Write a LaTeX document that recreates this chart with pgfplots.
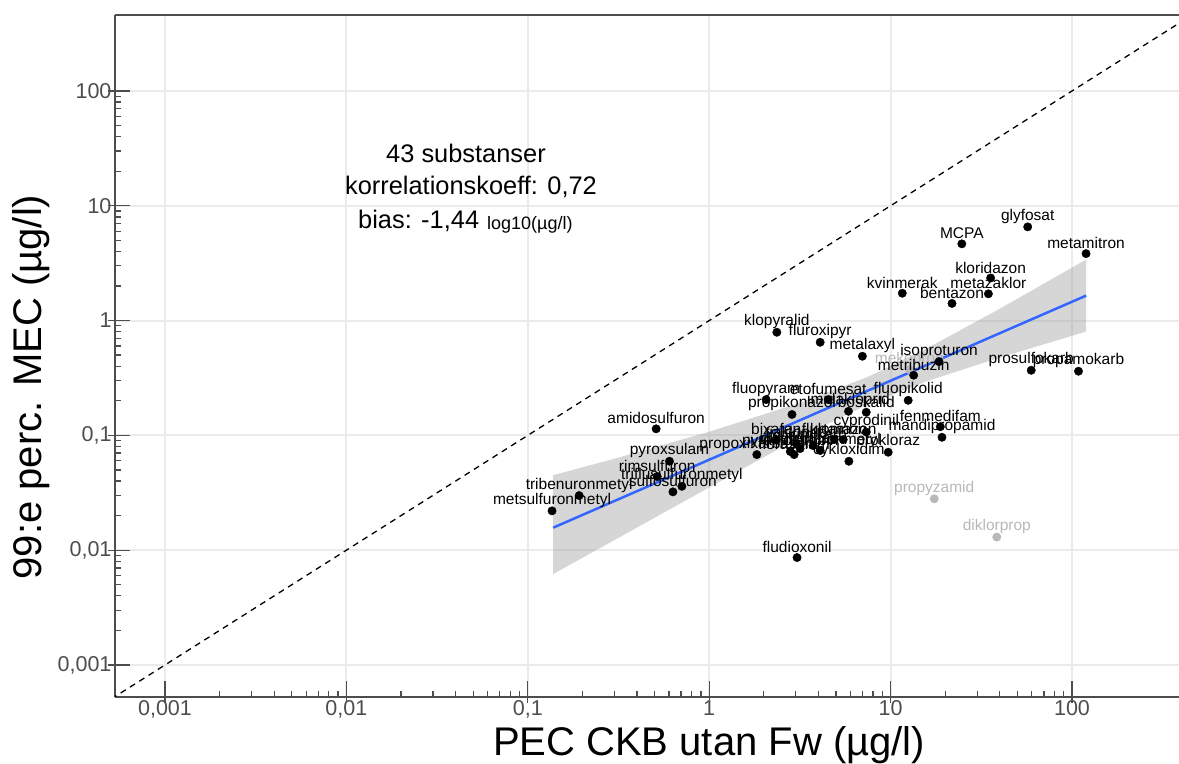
\documentclass[border=0pt]{standalone}
\usepackage{fontspec}
\setmainfont{Liberation Sans}
\usepackage{pgfplots}
\usepackage{pgfplotstable}
\pgfplotsset{compat=1.18}

\definecolor{tickgray}{HTML}{4D4D4D}
\definecolor{gridgray}{HTML}{EBEBEB}
\definecolor{smoothblue}{HTML}{3366FF}
\definecolor{ribbongray}{HTML}{999999}
\definecolor{faded}{HTML}{B8B8B8}

% substances: PEC (x), 99th percentile MEC (y)
\pgfplotstableread{
x y lab
57.0 6.55 glyfosat
24.7 4.66 MCPA
119.5 3.83 metamitron
35.6 2.35 kloridazon
34.6 1.71 metazaklor
11.6 1.73 kvinmerak
21.8 1.41 bentazon
2.36 0.791 klopyralid
4.09 0.647 fluroxipyr
6.99 0.489 metalaxyl
18.5 0.439 isoproturon
13.4 0.334 metribuzin
59.6 0.369 prosulfokarb
108.6 0.362 propamokarb
12.5 0.202 fluopikolid
18.8 0.119 fenmedifam
19.2 0.0962 mandipropamid
9.70 0.0713 prokloraz
5.89 0.0595 cykloxidim
7.34 0.107 cyprodinil
7.34 0.159 boskalid
5.86 0.162 imidakloprid
4.53 0.205 etofumesat
2.06 0.205 fluopyram
2.86 0.152 propikonazol
0.510 0.114 amidosulfuron
1.83 0.068 propoxikarbazon
0.604 0.0595 pyroxsulam
0.517 0.0438 rimsulfuron
0.707 0.036 triflusulfuronmetyl
0.631 0.0322 sulfosulfuron
0.192 0.0299 tribenuronmetyl
0.136 0.022 metsulfuronmetyl
3.05 0.00862 fludioxonil
2.34 0.0919 bixafen
3.02 0.0849 tiakloprid
4.89 0.0919 flurtamon
2.80 0.0723 pyraklostrobin
3.17 0.0767 diflufenikan
2.94 0.068 florasulam
3.74 0.0815 pirimikarb
4.09 0.0738 tifensulfuronmetyl
5.48 0.0919 klomazon
}\subst

\pgfplotstableread{
x y lab
12.7 0.374 mekoprop
17.4 0.0280 propyzamid
38.5 0.0130 diklorprop
}\excluded

\begin{document}
\begin{tikzpicture}
\begin{axis}[
  scale only axis, width=1064pt, height=682pt,
  xmode=log, ymode=log,
  xmin=0.000530, xmax=389, ymin=0.000526, ymax=459,
  axis lines=left, axis line style={-, tickgray, line width=1.3pt},
  tick align=inside, major tick length=22pt, minor tick length=6pt,
  tick style={tickgray, line width=1.3pt},
  major x tick style={yshift=-6pt},
  major y tick style={xshift=-7pt},
  xtick={0.001,0.01,0.1,1,10,100},
  xticklabels={{0,001},{0,01},{0,1},1,10,100},
  ytick={0.001,0.01,0.1,1,10,100},
  yticklabels={{0,001},{0,01},{0,1},1,10,100},
  grid=major, major grid style={gridgray, line width=2pt},
  ticklabel style={font=\fontsize{21.5}{24}\selectfont, text=tickgray},
  xlabel={PEC CKB utan Fw (µg/l)}, ylabel={99:e perc. MEC (µg/l)},
  label style={font=\fontsize{40}{42}\selectfont},
  xlabel style={at={(axis description cs:0.5583,-0.0700)}, anchor=center},
  ylabel style={at={(axis description cs:-0.079,0.4545)}, anchor=center},
]
\coordinate (SW) at (rel axis cs:0,0);
\coordinate (NE) at (rel axis cs:1,1);
\coordinate (NW) at (rel axis cs:0,1);

\addplot[black, line width=1.3pt, dash pattern=on 6pt off 5pt] coordinates {(0.0004,0.0004) (500,500)};

\addplot[only marks, mark=*, mark size=4.2pt, faded,
  nodes near coords, point meta=explicit symbolic,
  every node near coord/.style={anchor=center, yshift=10.5pt, inner sep=0pt,
    font=\fontsize{15.5}{17}\selectfont, text=faded}]
  table[x=x, y=y, meta=lab] {\excluded};

\addplot[only marks, mark=*, mark size=4.2pt, black,
  nodes near coords, point meta=explicit symbolic,
  every node near coord/.style={anchor=center, yshift=10.5pt, inner sep=0pt,
    font=\fontsize{15.5}{17}\selectfont, text=black}]
  table[x=x, y=y, meta=lab] {\subst};

% confidence band of the fit
\addplot[draw=none, fill=ribbongray, fill opacity=0.4] coordinates {
  (0.138,0.0450) (0.316,0.0640) (1,0.1076) (3.16,0.192) (7.52,0.324) (15.8,0.571) (39.8,1.262) (119.7,3.40)
  (119.7,0.802) (39.8,0.475) (15.8,0.296) (7.52,0.1866) (3.16,0.0962) (1,0.0352) (0.316,0.0128) (0.138,0.0062)
};
\addplot[smoothblue, line width=2.5pt] coordinates {(0.138,0.0157) (119.7,1.65)};

\node[font=\fontsize{25.4}{28}\selectfont] at (rel axis cs:0.3299,0.7977) {43 substanser};
\node[font=\fontsize{25.4}{28}\selectfont] at (rel axis cs:0.3346,0.7478) {korrelationskoeff: 0,72};
\node[font=\fontsize{25.4}{28}\selectfont, anchor=west, inner sep=0pt] at (rel axis cs:0.2284,0.6979) {bias: -1,44};
\node[font=\fontsize{18}{20}\selectfont, anchor=west, inner sep=0pt] at (rel axis cs:0.3496,0.6921) {log10(µg/l)};
\end{axis}
\draw[tickgray, line width=1.3pt] (NW) -- (NE);
\pgfresetboundingbox
\path ([xshift=-115pt,yshift=-67pt]SW) rectangle ([yshift=15pt]NE);
\end{tikzpicture}
\end{document}
